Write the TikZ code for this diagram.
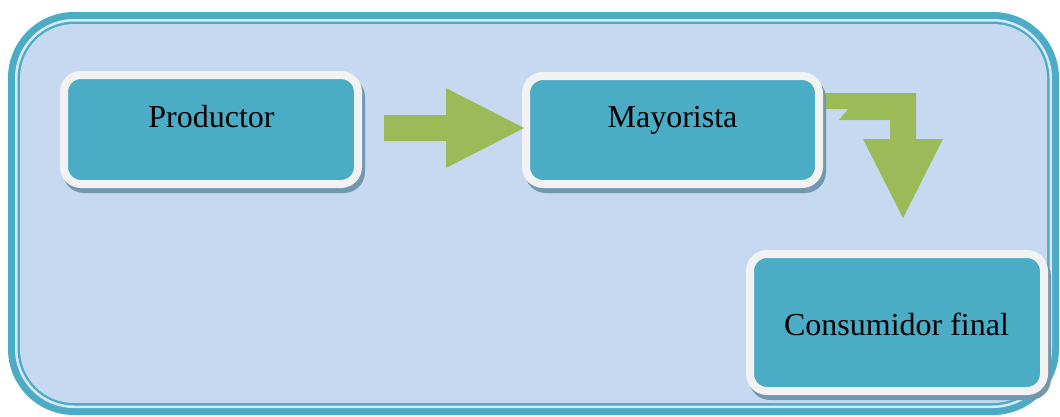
\documentclass[tikz,border=0pt]{standalone}
\usepackage{fontspec}
\setmainfont{Liberation Serif}
\usetikzlibrary{calc}
\definecolor{teal1}{HTML}{4BACC6}
\definecolor{bgblue}{HTML}{C6D9F0}
\definecolor{lightline}{HTML}{DCE7F5}
\definecolor{whiteb}{HTML}{F2F2F2}
\definecolor{shadowc}{HTML}{7298AF}
\definecolor{arrowg}{HTML}{9BBB59}
\pgfdeclarelayer{bg}
\pgfdeclarelayer{shadowl}
\pgfsetlayers{bg,shadowl,main}
\begin{document}
\begin{tikzpicture}[x=1pt,y=-1pt,
  boxstyle/.style={draw=whiteb, line width=8pt, fill=teal1, rounded corners=17pt, inner sep=0pt},
  shadowstyle/.style={fill=shadowc, rounded corners=21pt},
  lbl/.style={anchor=base, inner sep=0pt, font=\fontsize{32}{36}\selectfont},
  blockarrow/.style={fill=arrowg, draw=none}]
\useasboundingbox (0,0) rectangle (1060,416);
\begin{pgfonlayer}{bg}
\fill[white] (0,0) rectangle (1060,416);
% frame
\fill[teal1, rounded corners=66pt] (8,12) rectangle (1059,415);
\fill[lightline, rounded corners=59pt] (15,19) rectangle (1052,408);
\fill[teal1, rounded corners=57pt] (17.5,21.5) rectangle (1049.5,405.5);
\fill[bgblue, rounded corners=54pt] (20,24) rectangle (1047,403);
% bent arrow (behind Mayorista)
\coordinate (b1) at (825,93);
\fill[blockarrow] (b1) -- (916,93) -- (916,139) -- (943,139) -- (903,218) -- (863,139)
  -- (890,139) -- (890,120) -- (839,120) -- (848,109) -- (825,109) -- cycle;
\end{pgfonlayer}
% boxes
\node[boxstyle, minimum width=294pt, minimum height=109pt] (prod) at (211,129.5) {};
\node[boxstyle, minimum width=293pt, minimum height=108pt] (may) at (672.5,130) {};
\node[boxstyle, minimum width=294pt, minimum height=137pt] (cons) at (897,322.5) {};
\begin{pgfonlayer}{shadowl}
\foreach \n in {prod,may,cons}{
  \fill[shadowstyle] ($(\n.north west)+(3,5)$) rectangle ($(\n.south east)+(3,5)$);
}
\end{pgfonlayer}
\node[lbl] (prodt) at (211.5,127) {Productor};
\node[lbl] (mayt) at (672.5,127) {Mayorista};
\node[lbl] (const) at (896.5,335) {Consumidor final};
% straight arrow
\coordinate (a1) at (384,115);
\fill[blockarrow] (a1) -- (446,115) -- (446,88) -- (524,128) -- (446,168) -- (446,141) -- (384,141) -- cycle;
\end{tikzpicture}
\end{document}
